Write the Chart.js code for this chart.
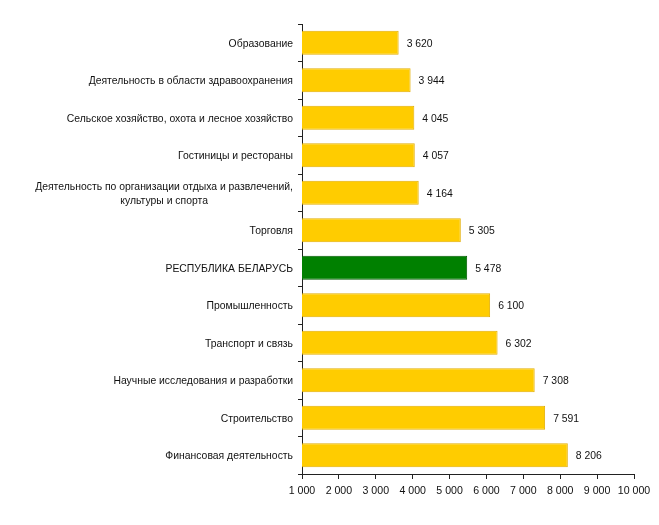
<!DOCTYPE html>
<html>
<head>
<meta charset="utf-8">
<script src="https://cdn.jsdelivr.net/npm/chart.js@4/dist/chart.umd.min.js"></script>
<style>
  html, body { margin: 0; padding: 0; background: #fff; }
  #wrap { width: 659px; height: 525px; }
</style>
</head>
<body>
<div id="wrap"><canvas id="myChart" width="659" height="525"></canvas></div>
<script>
const categories = [
    ['Образование'],
    ['Деятельность в области здравоохранения'],
    ['Сельское хозяйство, охота и лесное хозяйство'],
    ['Гостиницы и рестораны'],
    ['Деятельность по организации отдыха и развлечений,', 'культуры и спорта'],
    ['Торговля'],
    ['РЕСПУБЛИКА БЕЛАРУСЬ'],
    ['Промышленность'],
    ['Транспорт и связь'],
    ['Научные исследования и разработки'],
    ['Строительство'],
    ['Финансовая деятельность']
];
const values = [3620, 3944, 4045, 4057, 4164, 5305, 5478, 6100, 6302, 7308, 7591, 8206];
const highlight = 'РЕСПУБЛИКА БЕЛАРУСЬ';
const xMin = 1000;
const xMax = 10000;
const xStep = 1000;

const FONT = '10.4px "Liberation Sans", Arial, sans-serif';

function fmt(v) {
    return String(v).replace(/\B(?=(\d{3})+(?!\d))/g, ' ');
}

const fills = categories.map(c => c[0] === highlight ? '#008000' : '#FFCC00');
const borders = categories.map(c => c[0] === highlight ? '#005a00' : '#E3AE00');

// category labels: block right-aligned to the axis, lines centered inside it
const yLabels = {
    id: 'yLabels',
    afterDraw(chart) {
        const ctx = chart.ctx;
        const y = chart.scales.y;
        const right = y.right - 9;
        ctx.save();
        ctx.font = FONT;
        ctx.fillStyle = '#111';
        ctx.textBaseline = 'middle';
        ctx.textAlign = 'center';
        categories.forEach((lines, i) => {
            const w = Math.max(...lines.map(l => ctx.measureText(l).width));
            const cx = right - w / 2;
            const lh = 14;
            const cy = y.getPixelForValue(i) + 1;
            lines.forEach((l, j) => {
                ctx.fillText(l, cx, cy + (j - (lines.length - 1) / 2) * lh);
            });
        });
        ctx.restore();
    }
};

// value labels to the right of each bar
const valueLabels = {
    id: 'valueLabels',
    afterDatasetsDraw(chart) {
        const ctx = chart.ctx;
        const meta = chart.getDatasetMeta(0);
        ctx.save();
        ctx.font = FONT;
        ctx.fillStyle = '#111';
        ctx.textBaseline = 'middle';
        ctx.textAlign = 'left';
        meta.data.forEach((bar, i) => {
            ctx.fillText(fmt(values[i]), bar.x + 8, bar.y + 1);
        });
        ctx.restore();
    }
};

const ctx = document.getElementById('myChart').getContext('2d');
const myChart = new Chart(ctx, {
    type: 'bar',
    data: {
        labels: categories.map(c => c.join(' ')),
        datasets: [{
            data: values,
            backgroundColor: fills,
            borderColor: borders,
            borderWidth: 1,
            borderSkipped: false,
            barPercentage: 0.64,
            categoryPercentage: 1
        }]
    },
    options: {
        indexAxis: 'y',
        responsive: false,
        animation: false,
        layout: { padding: { top: 24, right: 25, left: 0, bottom: 0 } },
        plugins: {
            legend: { display: false },
            tooltip: { enabled: false }
        },
        scales: {
            x: {
                min: xMin,
                max: xMax,
                border: { display: true, color: '#222', width: 1 },
                grid: { drawOnChartArea: false, drawTicks: true, tickLength: 5, color: '#222' },
                ticks: {
                    stepSize: xStep,
                    color: '#111',
                    font: { family: '"Liberation Sans", Arial, sans-serif', size: 10.6 },
                    padding: 6,
                    maxRotation: 0,
                    autoSkip: false,
                    callback: v => fmt(v)
                },
                afterFit: s => { s.height = 51; }
            },
            y: {
                border: { display: true, color: '#222', width: 1 },
                grid: { drawOnChartArea: false, drawTicks: true, tickLength: 4, color: '#222', offset: true },
                ticks: { display: false },
                afterFit: s => { s.width = 302; }
            }
        }
    },
    plugins: [yLabels, valueLabels]
});
</script>
</body>
</html>
